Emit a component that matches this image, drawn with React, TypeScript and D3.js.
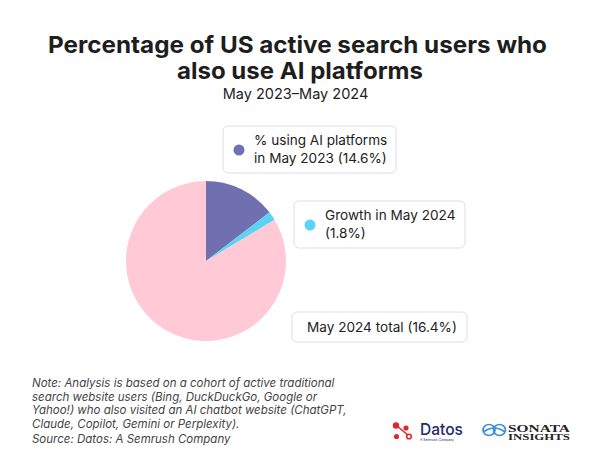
import React from "react";
import * as d3 from "d3";

const categories = ["% using AI platforms in May 2023", "Growth in May 2024", "Not using AI platforms"];
const values = [14.6, 1.8, 83.6];
const colors = ["#7070b0", "#5ad4f4", "#ffc9d6"];
const legendLines = [
  ["% using AI platforms", "in May 2023 (14.6%)"],
  ["Growth in May 2024", "(1.8%)"],
];
const totalLabel = "May 2024 total (16.4%)";
const noteLines = [
  "Note: Analysis is based on a cohort of active traditional",
  "search website users (Bing, DuckDuckGo, Google or",
  "Yahoo!) who also visited an AI chatbot website (ChatGPT,",
  "Claude, Copilot, Gemini or Perplexity).",
];
const sourceText = "Source: Datos: A Semrush Company";

export default function App() {
  const W = 602, H = 468;
  const cx = 206, cy = 261, r = 80;
  const pie = d3.pie<number>().sort(null).value((d) => d)(values);
  const arc = d3.arc<d3.PieArcDatum<number>>().innerRadius(0).outerRadius(r);
  const font = "Inter, 'Open Sans', sans-serif";
  const boxes = [
    { x: 223, y: 126, w: 173, h: 47, lines: legendLines[0], color: colors[0] },
    { x: 294, y: 201, w: 171, h: 47, lines: legendLines[1], color: colors[1] },
  ];
  return (
    <svg width={W} height={H} style={{ position: "absolute", left: 0, top: 0, background: "#fff" }} fontFamily={font}>
      <rect width={W} height={H} fill="#fff" />
      <text x={297.5} y={52.5} textAnchor="middle" fontSize={23.5} fontWeight={700} fill="#1e1e1e" textLength={499} lengthAdjust="spacingAndGlyphs">
        Percentage of US active search users who
      </text>
      <text x={300} y={79} textAnchor="middle" fontSize={23.5} fontWeight={700} fill="#1e1e1e" textLength={246} lengthAdjust="spacingAndGlyphs">
        also use AI platforms
      </text>
      <text x={295.5} y={98.5} textAnchor="middle" fontSize={14.5} fill="#222">
        May 2023–May 2024
      </text>
      <g transform={`translate(${cx},${cy})`}>
        {pie.map((p, i) => (
          <path key={categories[i]} d={arc(p) || ""} fill={colors[i]} />
        ))}
      </g>
      {boxes.map((b, i) => (
        <g key={i}>
          <rect x={b.x} y={b.y} width={b.w} height={b.h} rx={5} fill="#fff" stroke="#dedee6" strokeWidth={1} />
          <circle cx={b.x + 16} cy={b.y + 24} r={5.5} fill={b.color} />
          <text x={b.x + 31} y={b.y + 19} fontSize={13.6} fill="#222">{b.lines[0]}</text>
          <text x={b.x + 31} y={b.y + 37} fontSize={13.6} fill="#222">{b.lines[1]}</text>
        </g>
      ))}
      <rect x={292} y={312} width={175} height={30} rx={5} fill="#fff" stroke="#dedee6" strokeWidth={1} />
      <text x={307} y={332} fontSize={13.6} fill="#222">{totalLabel}</text>
      {noteLines.map((t, i) => (
        <text key={i} x={32} y={387 + i * 13.5} fontSize={11.5} fontStyle="italic" fill="#444">{t}</text>
      ))}
      <text x={32} y={443} fontSize={11.5} fontStyle="italic" fill="#444">{sourceText}</text>
      {/* Datos logo */}
      <g stroke="#e0282e" strokeWidth={1.6} fill="#e0282e">
        <line x1={397} y1={426} x2={409} y2={436} />
        <circle cx={396} cy={425.5} r={2.4} />
        <circle cx={406} cy={428} r={1.8} />
        <circle cx={396.5} cy={436.5} r={1.8} />
        <circle cx={409} cy={436.5} r={2.3} fill="#fff" />
      </g>
      <text x={420} y={435} fontSize={16.5} fill="#232a6e" fontWeight={500} textLength={43} lengthAdjust="spacingAndGlyphs">Datos</text>
      <text x={420} y={441} fontSize={3.4} fill="#232a6e" textLength={34}>A Semrush Company</text>
      {/* Sonata logo */}
      <g fill="none" stroke="#3a8fd8" strokeWidth={1.7}>
        <ellipse cx={489} cy={430} rx={6} ry={5.5} />
        <ellipse cx={499.5} cy={430} rx={6} ry={5.5} />
        <path d="M483.5 432 Q494 424 505 432" />
      </g>
      <text x={508} y={431.5} fontSize={9.5} fontFamily="'Liberation Serif', serif" fontWeight={700} fill="#222" textLength={62} lengthAdjust="spacingAndGlyphs">SONATA</text>
      <text x={508} y={440} fontSize={8.5} fontFamily="'Liberation Serif', serif" fontWeight={700} fill="#222" textLength={62} lengthAdjust="spacingAndGlyphs">INSIGHTS</text>
    </svg>
  );
}
